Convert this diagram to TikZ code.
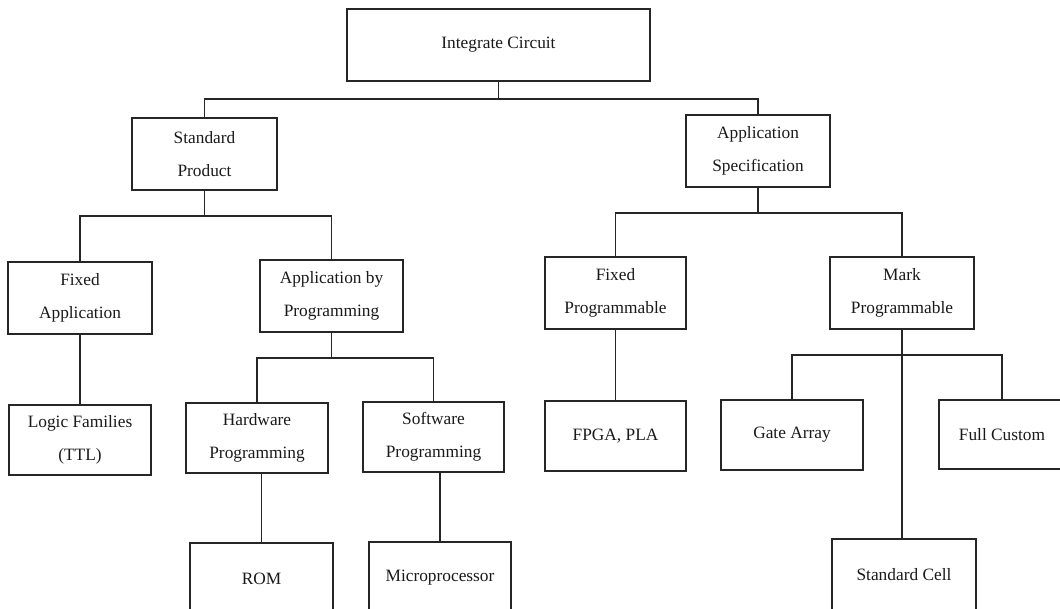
\documentclass[tikz,border=0pt]{standalone}
\usepackage{fontspec}
\setmainfont{Liberation Serif}
\begin{document}
\begin{tikzpicture}[x=0.75pt,y=-0.75pt,
  box/.style 2 args={draw=black!85, line width=0.9pt, inner sep=0pt, align=center,
    minimum width=#1*0.75pt, minimum height=#2*0.75pt,
    text=black!90, font=\fontsize{13}{24.75}\selectfont},
  link/.style={draw=black!85, line width=0.9pt}]
\useasboundingbox (0,0) rectangle (1060,608);
\clip (0,0) rectangle (1060,608);

% level 0
\node[box={303}{72}] (ic) at (498.5,45) {Integrate Circuit};
% level 1
\node[box={145}{72}] (sp) at (204.5,154) {Standard\\Product};
\node[box={144}{72}] (as) at (758,151) {Application\\Specification};
% level 2
\node[box={144}{72}] (fa)  at (80,298)    {Fixed\\Application};
\node[box={143}{72}] (abp) at (331.5,296) {Application by\\Programming};
\node[box={141}{72}] (fp)  at (615.5,293) {Fixed\\Programmable};
\node[box={144}{72}] (mp)  at (902,293)   {Mark\\Programmable};
% level 3
\node[box={142}{70}] (lf)   at (80,440)    {Logic Families\\(TTL)};
\node[box={142}{70}] (hp)   at (257,438)   {Hardware\\Programming};
\node[box={141}{70}] (swp)  at (433.5,437) {Software\\Programming};
\node[box={141}{70}] (fpga) at (615.5,436) {FPGA, PLA};
\node[box={142}{70}] (ga)   at (792,435)   {Gate Array};
\node[box={126}{69}] (fc)   at (1002,434.5) {Full Custom};
% level 4
\node[box={143}{72}] (rom)   at (261.5,579) {ROM};
\node[box={142}{72}] (micro) at (440,578)   {Microprocessor};
\node[box={144}{72}] (sc)    at (904,575)   {Standard Cell};

% bus junctions
\coordinate (b0) at (498.5,99);
\coordinate (b1) at (204.5,216);
\coordinate (b2) at (758,213);
\coordinate (b3) at (331.5,358);
\coordinate (b4) at (902,355);

% connectors
\draw[link] (ic.south) -- (ic.south |- b0);
\draw[link] (sp.north) |- (b0) -| (as.north);

\draw[link] (sp.south) -- (sp.south |- b1);
\draw[link] (fa.north) |- (b1) -| (abp.north);

\draw[link] (as.south) -- (as.south |- b2);
\draw[link] (fp.north) |- (b2) -| (mp.north);

\draw[link] (fa.south) -- (lf.north);

\draw[link] (abp.south) -- (abp.south |- b3);
\draw[link] (hp.north) |- (b3) -| (swp.north);

\draw[link] (rom.north) -- (rom.north |- hp.south);
\draw[link] (micro.north) -- (micro.north |- swp.south);

\draw[link] (fp.south) -- (fpga.north);

\draw[link] (mp.south) -- (mp.south |- sc.north);
\draw[link] (ga.north) |- (b4) -| (fc.north);
\end{tikzpicture}
\end{document}
